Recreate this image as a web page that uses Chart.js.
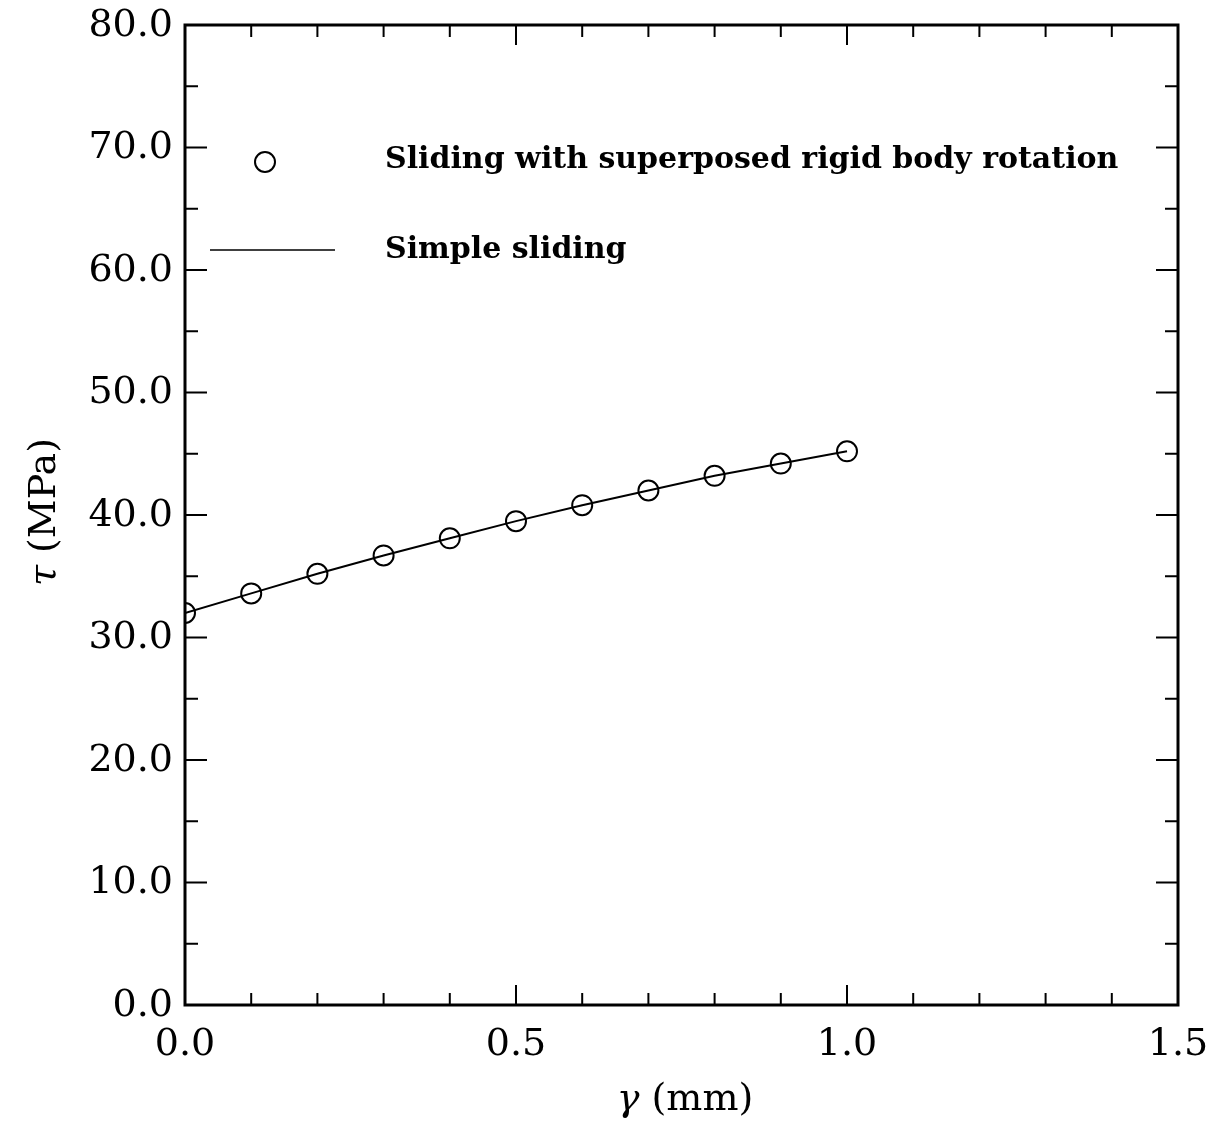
<!DOCTYPE html>
<html lang="en">
<head>
    <meta charset="UTF-8">
    <title>Shear stress vs displacement</title>
    <style>
        body { margin: 0; background: white; }
        #myChart { display: block; }
    </style>
</head>
<body>
    <canvas id="myChart" width="1217" height="1131"></canvas>

    <script src="https://cdn.jsdelivr.net/npm/chart.js"></script>
    <script>
        // data
        const gammaValues = [0.0, 0.1, 0.2, 0.3, 0.4, 0.5, 0.6, 0.7, 0.8, 0.9, 1.0];
        const rotationTau = [32.0, 33.6, 35.2, 36.7, 38.1, 39.5, 40.8, 42.0, 43.2, 44.2, 45.2];
        const simpleTau   = [32.0, 33.6, 35.2, 36.7, 38.1, 39.5, 40.8, 42.0, 43.2, 44.2, 45.2];

        const seriesLabels = ['Sliding with superposed rigid body rotation', 'Simple sliding'];

        // tick positions (inward ticks on all four sides) and labels
        const xMajorTicks = [0.0, 0.5, 1.0, 1.5];
        const xTickLabels = ['0.0', '0.5', '1.0', '1.5'];
        const xMinorTicks = [0.1, 0.2, 0.3, 0.4, 0.6, 0.7, 0.8, 0.9, 1.1, 1.2, 1.3, 1.4];
        const yMajorTicks = [0, 10, 20, 30, 40, 50, 60, 70, 80];
        const yTickLabels = ['0.0', '10.0', '20.0', '30.0', '40.0', '50.0', '60.0', '70.0', '80.0'];
        const yMinorTicks = [5, 15, 25, 35, 45, 55, 65, 75];

        const labelFont = '38px "DejaVu Serif"';
        const greekFont = 'italic 38px "DejaVu Serif"';

        // frame, inward ticks, tick labels, legend and axis titles
        const framePlugin = {
            id: 'frame',
            afterDraw(chart) {
                const ctx = chart.ctx;
                const a = chart.chartArea;
                const xs = chart.scales.x;
                const ys = chart.scales.y;
                ctx.save();
                ctx.strokeStyle = '#000';
                ctx.fillStyle = '#000';
                ctx.lineWidth = 3;
                ctx.strokeRect(a.left, a.top, a.right - a.left, a.bottom - a.top);

                ctx.lineWidth = 2;
                ctx.beginPath();
                const xt = (list, len) => list.forEach(v => {
                    const px = xs.getPixelForValue(v);
                    ctx.moveTo(px, a.bottom); ctx.lineTo(px, a.bottom - len);
                    ctx.moveTo(px, a.top); ctx.lineTo(px, a.top + len);
                });
                const yt = (list, len) => list.forEach(v => {
                    const py = ys.getPixelForValue(v);
                    ctx.moveTo(a.left, py); ctx.lineTo(a.left + len, py);
                    ctx.moveTo(a.right, py); ctx.lineTo(a.right - len, py);
                });
                xt(xMajorTicks, 20);
                xt(xMinorTicks, 12);
                yt(yMajorTicks, 22);
                yt(yMinorTicks, 13);
                ctx.stroke();

                // tick labels
                ctx.font = labelFont;
                ctx.textBaseline = 'middle';
                ctx.textAlign = 'right';
                yMajorTicks.forEach((v, i) => ctx.fillText(yTickLabels[i], a.left - 12, ys.getPixelForValue(v) + 1));
                ctx.textAlign = 'center';
                xMajorTicks.forEach((v, i) => ctx.fillText(xTickLabels[i], xs.getPixelForValue(v), a.bottom + 40));

                // legend
                ctx.lineWidth = 2;
                ctx.beginPath();
                ctx.arc(265, 162, 10, 0, Math.PI * 2);
                ctx.stroke();
                ctx.beginPath();
                ctx.moveTo(210, 250);
                ctx.lineTo(335, 250);
                ctx.lineWidth = 1.5;
                ctx.stroke();

                ctx.font = 'bold 30px "DejaVu Serif"';
                ctx.textAlign = 'left';
                ctx.fillText(chart.data.datasets[0].label, 385, 160);
                ctx.fillText(chart.data.datasets[1].label, 385, 250);

                // axis titles with italic greek letters
                const mixed = (greek, rest, cx, cy) => {
                    ctx.font = greekFont;
                    const gw = ctx.measureText(greek).width;
                    ctx.font = labelFont;
                    const rw = ctx.measureText(rest).width;
                    const x0 = cx - (gw + rw) / 2;
                    ctx.font = greekFont;
                    ctx.fillText(greek, x0, cy);
                    ctx.font = labelFont;
                    ctx.fillText(rest, x0 + gw, cy);
                };
                mixed('γ', ' (mm)', 685, 1100);

                ctx.translate(45, 512);
                ctx.rotate(-Math.PI / 2);
                mixed('τ', ' (MPa)', 0, 0);
                ctx.restore();
            }
        };

        const ctx = document.getElementById('myChart').getContext('2d');
        new Chart(ctx, {
            type: 'scatter',
            data: {
                datasets: [{
                    label: seriesLabels[0],
                    data: gammaValues.map((g, i) => ({ x: g, y: rotationTau[i] })),
                    showLine: false,
                    pointStyle: 'circle',
                    pointRadius: 10,
                    pointBorderWidth: 2,
                    borderColor: '#000',
                    backgroundColor: 'rgba(0,0,0,0)',
                    order: 0
                }, {
                    label: seriesLabels[1],
                    data: gammaValues.map((g, i) => ({ x: g, y: simpleTau[i] })),
                    showLine: true,
                    borderColor: '#000',
                    borderWidth: 2,
                    pointRadius: 0,
                    tension: 0,
                    order: 1
                }]
            },
            options: {
                responsive: false,
                animation: false,
                layout: { padding: { left: 0, top: 25, right: 39, bottom: 0 } },
                scales: {
                    x: {
                        type: 'linear',
                        min: 0, max: 1.5,
                        grid: { display: false, drawTicks: false },
                        border: { display: false },
                        ticks: { display: false, stepSize: 0.5 },
                        afterFit: s => { s.height = 126; }
                    },
                    y: {
                        type: 'linear',
                        min: 0, max: 80,
                        grid: { display: false, drawTicks: false },
                        border: { display: false },
                        ticks: { display: false, stepSize: 10 },
                        afterFit: s => { s.width = 185; }
                    }
                },
                plugins: {
                    legend: { display: false },
                    tooltip: { enabled: false }
                }
            },
            plugins: [framePlugin]
        });
    </script>
</body>
</html>
